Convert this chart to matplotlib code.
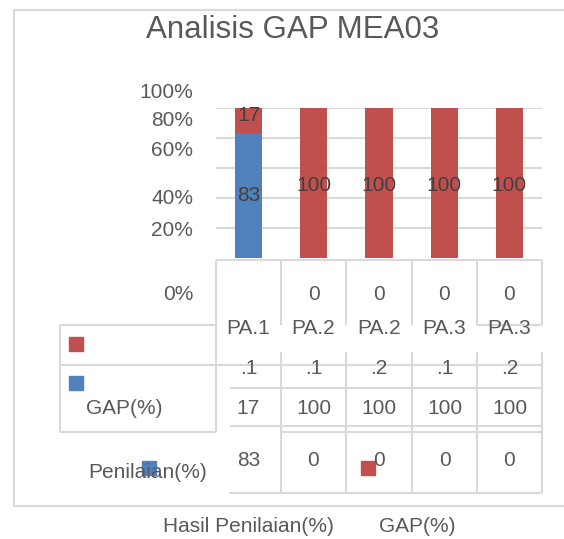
import matplotlib
matplotlib.use("Agg")
import matplotlib.pyplot as plt
from matplotlib.patches import Rectangle

# data
categories = ["PA.1", "PA.2", "PA.2", "PA.3", "PA.3"]
sub_labels = [".1", ".1", ".2", ".1", ".2"]
penilaian = [83, 0, 0, 0, 0]
gap = [17, 100, 100, 100, 100]
y_ticks = ["100%", "80%", "60%", "40%", "20%", "0%"]

BLUE = "#4F81BD"
RED = "#C0504D"
TXT = "#595959"
LINE = "#D9D9D9"
FONT = "Liberation Sans"
FS = 15

W, H = 564, 539
fig = plt.figure(figsize=(W / 100, H / 100), dpi=100)

# overlay axes in pixel coords
ov = fig.add_axes([0, 0, 1, 1])
ov.set_xlim(0, W)
ov.set_ylim(H, 0)
ov.axis("off")


def hline(y, x0, x1):
    ov.plot([x0, x1], [y, y], color=LINE, lw=1.5, solid_capstyle="butt")


def vline(x, y0, y1):
    ov.plot([x, x], [y0, y1], color=LINE, lw=1.5, solid_capstyle="butt")


def txt(x, y, s, ha="center", size=FS):
    ov.text(x, y, s, ha=ha, va="center", fontsize=size, color=TXT, family=FONT)


# outer border (open on the right)
ov.plot([W + 5, 14, 14, W + 5], [10, 10, 506, 506], color=LINE, lw=1.5)

# title
txt(293, 30, "Analisis GAP MEA03", size=22.5)

# bar axes
left, right, top, bottom = 216, 542, 108, 258
ax = fig.add_axes([left / W, 1 - bottom / H, (right - left) / W, (bottom - top) / H])
ax.set_xlim(-0.5, len(categories) - 0.5)
ax.set_ylim(0, 100)
ax.axis("off")
for v in [20, 40, 60, 80, 100]:
    ax.axhline(v, color=LINE, lw=1.5, zorder=0)
x = list(range(len(categories)))
ax.bar(x, penilaian, width=0.42, color=BLUE, zorder=2)
ax.bar(x, gap, width=0.42, bottom=penilaian, color=RED, zorder=2)

for i in x:
    p, g = penilaian[i], gap[i]
    if p > 0:
        ax.text(i, p / 2, str(p), ha="center", va="center", fontsize=FS, color="#404040", family=FONT)
    else:
        ax.text(i, -24.5, str(p), ha="center", va="center", fontsize=FS, color=TXT,
                family=FONT, clip_on=False)
    off = 3.5 if g < 50 else -1.5
    ax.text(i, p + g / 2 + off, str(g), ha="center", va="center", fontsize=FS,
            color="#404040", family=FONT, clip_on=False)

# y labels (misaligned as in the source)
for s, yy in zip(y_ticks, [92, 121, 151, 199, 231, 294]):
    txt(193, yy, s, ha="right")

# table grid
cols = [216, 281, 346, 412, 477, 542]
centers = [(cols[i] + cols[i + 1]) / 2 for i in range(5)]
hline(260, 216, 542)
vline(216, 260, 432)
for cx in cols[1:]:
    vline(cx, 260, 325)
    vline(cx, 352, 493)
hline(325, 60, 216)
hline(325, 477, 542)
vline(60, 325, 432)
hline(365, 60, 542)
hline(388, 230, 542)
hline(426, 230, 542)
hline(432, 60, 216)
hline(432, 281, 542)
hline(493, 229, 542)

for cx, s, sb in zip(centers, categories, sub_labels):
    txt(cx, 329, s)
    txt(cx, 368, sb)
for cx, g, p in zip(centers, gap, penilaian):
    txt(cx, 408, str(g))
    txt(cx, 461, str(p))

txt(124, 408, "GAP(%)")
txt(148, 472, "Penilaian(%)")

# legend keys
ov.add_patch(Rectangle((69, 337), 14, 14, color=RED))
ov.add_patch(Rectangle((69, 376), 14, 14, color=BLUE))
ov.add_patch(Rectangle((142, 461), 14, 14, color=BLUE))
ov.add_patch(Rectangle((361, 461), 14, 14, color=RED))

# bottom legend
txt(248, 527, "Hasil Penilaian(%)")
txt(417, 527, "GAP(%)")

fig.savefig("out.png", dpi=100)
